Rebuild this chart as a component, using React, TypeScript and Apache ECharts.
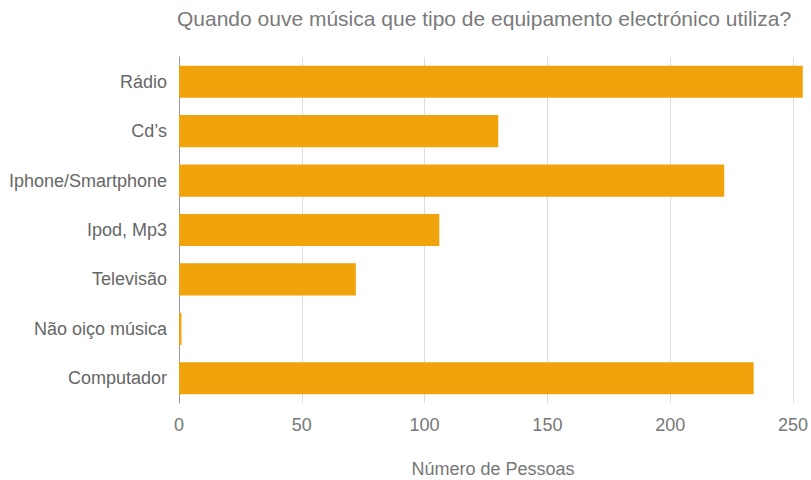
import React, { useEffect, useRef } from "react";
import * as echarts from "echarts";

const titleText = "Quando ouve música que tipo de equipamento electrónico utiliza?";
const axisName = "Número de Pessoas";
const categories = [
  "Rádio",
  "Cd’s",
  "Iphone/Smartphone",
  "Ipod, Mp3",
  "Televisão",
  "Não oiço música",
  "Computador",
];
const values = [254, 130, 222, 106, 72, 1, 234];

export default function App() {
  const ref = useRef<HTMLDivElement>(null);
  useEffect(() => {
    const chart = echarts.init(ref.current!, null, { renderer: "svg" });
    const font = "'Liberation Sans', Arial, Helvetica, sans-serif";
    chart.setOption({
      animation: false,
      textStyle: { fontFamily: font },
      title: {
        text: titleText,
        left: 177,
        top: 8,
        padding: 0,
        textStyle: { fontSize: 21, fontWeight: "normal", color: "#7a7a7a", fontFamily: font },
      },
      graphic: [
        {
          type: "text",
          x: 493,
          y: 469,
          style: {
            text: axisName,
            fontSize: 18,
            fill: "#777",
            fontFamily: font,
            align: "center",
            verticalAlign: "middle",
          },
        },
      ],
      grid: { left: 179, right: 0, top: 57, bottom: 77 },
      xAxis: {
        type: "value",
        min: 0,
        max: 255,
        interval: 50,
        axisLine: { show: false },
        axisTick: { show: false },
        axisLabel: { fontSize: 18, color: "#777", margin: 13, fontFamily: font, showMaxLabel: false },
        splitLine: { showMaxLine: false, lineStyle: { color: "#dcdcdc", width: 1 } },
      },
      yAxis: {
        type: "category",
        inverse: true,
        data: categories,
        axisLine: { show: true, lineStyle: { color: "#999", width: 1 } },
        axisTick: { show: false },
        axisLabel: { fontSize: 18, color: "#666", margin: 12, fontFamily: font },
      },
      series: [
        {
          type: "bar",
          data: values,
          barCategoryGap: "35%",
          itemStyle: { color: "#F0A30A" },
        },
      ],
    });
    return () => chart.dispose();
  }, []);
  return <div ref={ref} style={{ width: 811, height: 480, position: "absolute", left: 0, top: 0 }} />;
}
